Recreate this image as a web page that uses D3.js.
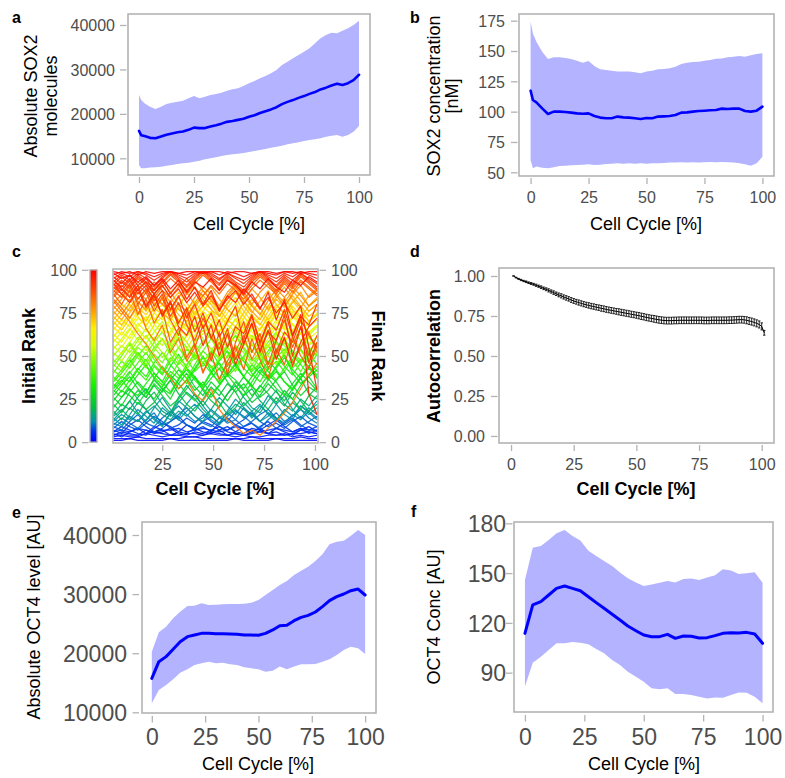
<!DOCTYPE html>
<html><head><meta charset="utf-8">
<script src="https://cdn.jsdelivr.net/npm/d3@7"></script>
<style>body{margin:0;background:#fff}svg{display:block}</style>
</head><body>
<svg id="fig" width="785" height="778"></svg>
<script>
const FONT = "'Liberation Sans', Arial, Helvetica, sans-serif";
const RIBBON = "#b3b3ff", LINE = "#0000ff", FRAME = "#b3b3b3", TICKTXT = "#4d4d4d";

// ---- panel a / b : SOX2 ----
const xA = [0,1,2.5,5,7.5,10,12.5,15,17.5,20,22.5,25,27.5,30,32.5,35,37.5,40,42.5,45,47.5,50,52.5,55,57.5,60,62.5,65,67.5,70,72.5,75,77.5,80,82.5,85,87.5,90,92.5,95,97.5,100];
const sox2Mean = [16150,15200,15000,14600,14500,14900,15300,15600,15850,16050,16400,16900,16800,16800,17150,17450,17800,18200,18400,18650,18900,19350,19700,20200,20600,21000,21500,22200,22700,23100,23600,24000,24500,24900,25500,25900,26400,26800,26500,26900,27600,28800];
const sox2Upper = [24250,23125,22375,21625,21100,21625,22225,22525,22750,22975,23500,24025,23500,23875,24250,24475,24775,25225,25525,25750,26275,26875,27400,28000,28525,29125,29875,31000,31750,32500,33250,34000,34750,35875,37000,37750,38275,38125,38725,39250,40000,40975];
const sox2Lower = [8500,7750,7750,7900,7975,8125,8350,8500,8725,8875,9025,9250,9475,9775,10000,10225,10525,10750,10900,11050,11200,11425,11650,11875,12100,12400,12625,12850,13150,13375,13600,13900,14125,14275,14500,14875,15100,15250,14875,15250,16000,17275];
const sox2ConcMean = [117.3,109.6,107.7,102.7,98.1,100,100,99.7,99.2,98.6,98.3,98.6,96.4,95.1,94.5,94.5,95.9,95.3,95.1,94.5,94,94.8,94.5,95.9,96.1,96.4,97.2,99.2,99.4,100,100.5,100.8,101.1,101.4,102.5,102.2,102.5,102.5,100.5,100,100.8,104.1];
const sox2ConcUpper = [174.2,164.5,157.7,149.4,143.4,144.8,144.8,144.2,143.4,142,140.4,141.7,137.6,134.9,134.3,133.8,133.2,133,133.2,132.4,131.6,133,133.8,134.9,135.2,135.7,137.1,139.3,140.4,141,141.2,142,142.6,143.7,143.9,144.8,145.3,145.9,145.3,146.4,147.5,148.1];
const sox2ConcLower = [60.2,53.3,54.7,53.8,53.3,54.1,55.2,55.5,55.8,56,56.3,56.6,56,56.3,56.9,57.1,57.4,57.1,57.4,57.1,57.4,57.1,57.4,57.4,57.7,58,58,58.2,58,58.2,58,58.2,58.5,58.2,58.5,58.2,58,57.4,56.6,55.5,57.4,62.9];

// ---- panel c : rank trajectories (rank at each cell-cycle position) ----
const rankX = [1,5,9,13,17,21,25,29,33,37,41,45,49,53,57,61,65,69,73,77,81,85,89,93,97,101];
const rankTracks = [
"1 1 2 1 1 1 1 2 1 1 1 1 1 1 1 2 1 1 1 1 2 1 1 1 1 1",
"2 2 2 3 2 2 2 2 2 3 3 2 2 2 2 2 2 3 2 2 2 2 2 3 2 2",
"3 4 3 3 5 4 3 4 4 3 3 4 5 4 4 3 4 3 3 4 4 5 3 4 3 4",
"4 5 4 4 5 6 5 4 4 5 5 4 6 5 4 5 4 5 6 5 4 4 5 5 6 5",
"4 6 5 4 7 5 6 8 5 4 6 5 7 9 6 5 4 6 8 5 6 4 5 7 6 5",
"5 3 6 8 5 9 7 4 6 10 8 6 5 7 4 6 9 11 7 5 8 6 4 7 9 6",
"6 7 6 8 7 6 7 7 8 6 7 8 7 6 7 9 8 7 6 7 8 7 6 8 7 7",
"6 9 7 5 4 8 11 9 6 5 8 12 10 7 9 6 5 8 7 10 13 9 6 8 5 7",
"7 5 10 13 9 6 8 12 15 10 7 9 6 11 14 10 8 5 9 12 8 11 14 10 7 9",
"8 12 9 7 11 15 12 8 10 14 11 16 12 9 7 10 13 17 12 9 11 8 12 15 11 9",
"9 7 12 16 11 9 14 18 13 10 8 12 15 11 17 13 9 12 16 19 14 10 13 9 12 15",
"10 14 11 8 13 17 10 12 16 20 15 11 9 14 12 18 15 11 8 13 17 12 15 19 14 11",
"11 9 15 12 18 14 10 17 21 16 12 14 19 15 11 13 20 16 12 17 14 11 16 13 18 14",
"12 16 13 19 15 11 20 16 13 18 22 17 13 10 15 19 14 18 22 16 12 19 15 21 17 13",
"13 18 24 17 12 20 26 19 14 22 28 21 15 11 18 25 20 14 19 27 22 16 13 21 18 24",
"14 10 16 23 19 13 9 17 24 20 15 12 19 26 21 16 23 18 12 15 22 27 19 14 20 16",
"15 19 14 12 17 21 16 13 18 15 20 24 18 14 17 22 19 15 21 17 13 18 23 19 16 20",
"16 22 19 26 31 24 18 15 23 29 25 19 14 21 28 33 26 20 17 24 30 22 18 25 21 27",
"18 13 20 16 24 29 22 17 26 33 27 21 28 23 16 20 27 31 24 19 26 21 29 24 18 22",
"20 26 31 25 19 23 30 36 28 22 18 25 32 27 34 29 21 26 33 28 23 30 25 19 27 32",
"22 17 24 30 26 33 27 21 25 31 38 30 24 20 28 35 30 23 27 34 29 24 31 37 28 25",
"24 30 27 22 29 36 31 25 34 40 32 27 35 30 24 31 38 33 26 30 36 41 33 27 32 29",
"26 21 29 35 30 25 32 39 34 28 24 31 37 43 35 29 34 27 32 39 35 28 25 33 38 31",
"27 33 38 31 26 34 29 36 42 37 30 35 28 33 40 36 31 38 44 37 31 27 34 40 35 30",
"29 35 41 34 28 37 44 38 31 36 43 50 41 34 39 46 38 32 40 47 42 35 31 38 44 37",
"30 26 33 39 45 37 31 28 36 43 38 32 40 46 39 33 27 35 42 37 44 51 40 34 38 42",
"31 36 30 27 34 40 35 29 37 42 36 31 26 33 39 45 38 32 29 36 41 35 30 37 43 38",
"32 38 35 42 48 40 35 44 51 43 37 33 41 47 53 44 38 45 40 36 43 49 42 37 44 39",
"34 29 36 43 38 46 52 45 39 34 42 49 44 37 45 51 47 40 35 43 50 44 39 46 52 45",
"35 40 46 52 44 38 33 41 37 45 51 46 40 35 42 49 43 38 46 41 36 43 50 45 39 44",
"36 42 48 41 36 44 39 47 55 48 41 46 53 45 38 43 50 57 49 42 47 41 48 54 46 41",
"38 33 40 46 52 45 40 49 43 37 45 53 48 42 50 56 47 41 46 53 59 50 43 48 44 51",
"40 47 43 50 56 48 42 38 46 54 50 44 51 58 52 45 49 42 50 56 49 54 47 41 49 55",
"42 37 44 52 47 55 60 51 45 50 57 49 43 48 55 62 54 47 52 46 54 60 53 47 55 50",
"44 50 57 49 43 51 46 54 61 55 48 53 60 52 46 41 49 57 51 45 52 58 51 46 53 58",
"45 41 48 55 51 58 64 56 49 44 52 59 54 48 56 62 55 49 44 51 58 53 60 54 48 52",
"46 52 58 51 45 53 60 54 47 42 50 57 63 55 49 56 52 45 51 58 64 56 50 55 61 54",
"48 43 50 56 62 55 49 57 64 58 51 46 53 60 55 49 56 62 57 50 45 52 59 53 47 55",
"50 56 52 59 66 58 52 47 55 62 68 60 54 49 57 64 58 52 59 65 57 51 58 63 56 61",
"52 47 54 61 57 64 70 62 55 50 58 65 60 53 61 67 59 53 48 56 63 58 65 59 53 57",
"54 60 66 59 53 61 56 64 71 65 58 63 69 61 55 50 58 66 61 55 62 68 60 55 62 67",
"56 51 58 65 60 68 73 66 59 54 62 69 64 57 65 71 63 57 52 60 67 62 69 63 57 61",
"58 64 60 67 73 65 59 55 63 70 76 68 61 57 64 72 66 59 66 72 64 58 65 71 63 68",
"60 55 62 69 64 71 77 69 62 58 66 73 68 61 69 75 67 61 56 64 71 66 73 67 60 64",
"61 67 73 66 60 68 64 71 78 72 65 70 76 68 62 58 66 74 69 62 69 75 68 63 70 74",
"63 58 65 72 68 75 80 73 66 61 69 76 71 64 72 78 70 64 59 67 74 69 76 70 64 68",
"65 71 67 74 79 72 66 62 70 77 82 74 68 64 71 78 73 66 73 79 71 65 72 78 70 75",
"67 62 69 76 71 78 83 76 69 65 73 79 74 67 75 81 73 67 62 70 77 72 79 73 67 71",
"68 74 80 73 67 75 71 78 84 78 71 76 82 74 68 64 72 80 75 68 75 81 74 69 76 80",
"70 65 72 78 74 80 85 78 71 67 75 82 77 70 78 84 76 70 65 73 80 75 82 76 70 74",
"71 77 83 76 70 78 74 81 87 81 74 79 85 77 71 67 75 83 78 71 78 84 77 72 79 83",
"73 68 75 81 77 83 88 81 74 70 78 85 80 73 81 87 79 73 68 76 83 78 85 79 73 77",
"74 80 76 83 88 81 75 71 79 86 90 83 77 73 80 87 82 75 82 88 80 74 81 87 79 84",
"76 71 78 84 80 86 91 84 77 73 81 88 83 76 84 90 82 76 71 79 86 81 88 82 76 80",
"77 83 89 82 76 84 80 87 92 87 80 85 90 83 77 73 81 89 84 77 84 90 83 78 85 89",
"79 74 81 87 83 89 93 87 80 76 84 90 86 79 87 92 85 79 74 82 89 84 90 85 79 83",
"80 86 82 89 93 86 80 76 84 90 94 88 82 78 85 91 87 80 87 92 85 79 86 91 84 88",
"82 76 70 63 57 50 43 37 31 36 28 24 31 19 13 9 5 7 4 8 12 17 23 31 39 46",
"83 78 72 80 66 59 68 52 60 47 55 41 49 58 44 53 62 48 57 43 51 60 46 55 64 52",
"84 89 85 91 87 93 88 84 90 95 89 85 91 86 92 88 83 89 94 90 86 92 87 93 89 85",
"85 91 87 93 89 84 90 95 91 86 92 97 93 88 94 90 85 91 96 92 87 93 89 94 90 86",
"86 80 88 74 83 69 77 58 66 49 57 40 52 36 47 55 42 60 48 37 54 45 61 50 43 56",
"87 93 89 95 91 86 92 97 93 88 94 98 94 89 95 91 87 93 97 93 88 94 90 96 92 88",
"88 84 91 80 87 76 84 71 62 76 55 68 47 64 39 58 70 52 63 45 59 71 55 67 50 62",
"89 94 90 96 92 88 93 98 94 90 95 99 95 91 96 92 88 94 98 94 90 95 91 97 93 89",
"90 86 92 83 89 79 86 73 81 68 59 72 61 54 66 48 60 73 57 69 52 64 58 71 62 55",
"91 96 92 97 93 90 95 99 95 91 96 99 96 92 97 93 90 95 99 95 91 96 92 98 94 90",
"92 86 81 89 78 85 74 82 69 78 64 75 60 71 55 67 63 74 58 70 65 77 61 73 68 80",
"92 88 94 86 91 82 88 77 85 72 80 66 75 61 70 79 57 69 52 64 59 74 50 67 46 58",
"93 97 94 98 95 91 96 99 96 93 97 99 97 94 98 95 92 96 99 96 93 97 94 98 95 92",
"94 89 84 91 79 86 73 81 67 62 73 56 68 50 63 45 57 69 53 65 48 61 44 58 67 72",
"94 90 95 88 93 86 91 84 89 81 87 79 85 77 83 88 80 86 78 84 75 81 72 79 55 30",
"95 98 96 99 97 94 97 99 97 95 98 99 98 95 98 96 94 97 99 97 95 98 96 99 97 95",
"96 92 97 91 95 88 94 86 92 83 90 80 88 76 85 81 89 84 77 87 71 83 62 74 28 16",
"97 99 98 99 98 96 98 99 98 97 99 99 99 97 99 98 96 98 99 98 97 99 98 99 98 97",
"98 95 97 93 96 91 95 89 94 87 93 90 95 88 94 91 86 93 89 95 90 87 94 91 96 93",
"99 98 99 97 99 98 99 99 98 99 99 98 99 99 98 99 99 98 99 99 98 99 99 98 99 99"
];
const rankColorStops = [0,6,12,20,32,45,56,66,76,87,100];
const rankColors = ["#0000ff","#0030f0","#0090b0","#00c040","#10f000","#70ff00","#d8ff00","#ffee00","#ffa000","#ff5000","#ff0000"];

// ---- panel d : autocorrelation (x = 1..101) ----
const autoVal = [1.000,0.990,0.982,0.975,0.969,0.964,0.958,0.953,0.948,0.942,
0.936,0.930,0.923,0.917,0.910,0.903,0.896,0.889,0.882,0.876,
0.869,0.863,0.857,0.850,0.844,0.839,0.834,0.829,0.824,0.820,
0.816,0.812,0.809,0.805,0.802,0.798,0.795,0.791,0.788,0.785,
0.782,0.779,0.776,0.773,0.770,0.767,0.764,0.761,0.758,0.755,
0.752,0.748,0.745,0.741,0.738,0.735,0.732,0.729,0.726,0.724,
0.722,0.721,0.721,0.721,0.722,0.722,0.723,0.723,0.723,0.723,
0.723,0.723,0.723,0.723,0.723,0.723,0.722,0.722,0.722,0.723,
0.723,0.723,0.723,0.723,0.723,0.723,0.724,0.724,0.725,0.726,
0.727,0.727,0.726,0.723,0.719,0.715,0.710,0.704,0.697,0.685,0.645];
const autoErr = [0,.002,.003,.004,.004,.005,.005,.006,.006,.007,
.007,.008,.008,.009,.010,.010,.011,.011,.012,.013,
.013,.014,.014,.015,.015,.015,.016,.016,.016,.016,
.017,.017,.017,.017,.017,.018,.018,.018,.018,.018,
.018,.018,.019,.019,.019,.019,.019,.019,.019,.019,
.020,.020,.020,.020,.020,.020,.021,.021,.021,.021,
.021,.021,.021,.021,.021,.021,.021,.021,.021,.021,
.021,.021,.021,.021,.021,.021,.021,.021,.021,.021,
.021,.021,.021,.021,.021,.021,.021,.021,.021,.021,
.021,.021,.021,.022,.022,.022,.022,.022,.022,.022,.015];

// ---- panel e / f : OCT4 ----
const xE = [0,3.3,6.7,10,13.3,16.7,20,23.3,26.7,30,33.3,36.7,40,43.3,46.7,50,53.3,56.7,60,63.3,66.7,70,73.3,76.7,80,83.3,86.7,90,93.3,96.7,100];
const oct4Mean = [15750,18570,19420,20660,21950,22800,23080,23360,23360,23310,23310,23250,23200,23080,23080,23030,23360,23930,24660,24720,25510,26070,26410,26970,27880,28890,29570,30020,30580,30860,29850];
const oct4Upper = [20260,23530,24490,25900,27030,27990,28040,28440,28160,28210,28270,28330,28330,28380,28550,29000,29850,30700,31540,32220,33230,33960,34640,35600,36730,38420,38870,39040,39890,40850,40000];
const oct4Lower = [11520,13780,14620,15580,16710,17270,18010,18290,18570,18290,18400,18120,18010,17610,17440,17270,16880,17050,17730,17270,17730,18120,18120,18180,18570,18970,19700,20550,21110,20830,19870];
const oct4ConcMean = [113.7,130.8,132.8,136.8,140.8,142.2,140.8,139.4,135.8,132.2,128.8,125.2,121.7,118.1,115.3,112.7,111.7,111.7,113.1,110.7,112.1,111.9,110.9,111.1,112.3,113.7,114.1,113.9,114.3,113.3,107.7];
const oct4ConcUpper = [145.8,165.3,166.3,170,174,176,172.4,169.6,163.5,160.3,157.3,154.3,150.3,146.9,144.4,142.2,143.2,144.2,145.2,144.4,146.5,146.7,145.8,147.3,148.7,152.3,151.5,149.5,149.9,150.5,144.2];
const oct4ConcLower = [81.6,96,99.6,103.7,107.7,107.7,108.5,108.1,107.1,104.3,101.7,97.6,94.6,90.6,87.6,84.6,80.6,80,80.6,77.1,77.1,76.5,75.5,74.5,75.1,74.9,76.5,78.1,77.9,75.5,71.5];

// tick labels
const pctTicks = [0,25,50,75,100];
const pctTicksC = [25,50,75,100];
const sox2Ticks = [10000,20000,30000,40000];
const sox2ConcTicks = [50,75,100,125,150,175];
const rankTicks = [0,25,50,75,100];
const autoTicks = [0,0.25,0.5,0.75,1];
const oct4Ticks = [10000,20000,30000,40000];
const oct4ConcTicks = [90,120,150,180];

// =====================================================
const svg = d3.select("#fig");

function makePanel(f, xd, yd){
  const g = svg.append("g");
  const x = d3.scaleLinear().domain(xd).range([f.l, f.r]);
  const y = d3.scaleLinear().domain(yd).range([f.b, f.t]);
  return {g, x, y, f};
}
function frame(p){
  p.g.append("rect").attr("x", p.f.l).attr("y", p.f.t)
    .attr("width", p.f.r - p.f.l).attr("height", p.f.b - p.f.t)
    .attr("fill", "none").attr("stroke", FRAME).attr("stroke-width", 1.6);
}
function styleAxis(ax, fs){
  ax.attr("font-family", FONT).attr("font-size", fs);
  ax.select(".domain").remove();
  ax.selectAll("line").attr("stroke", FRAME).attr("stroke-width", 1.3);
  ax.selectAll("text").attr("fill", TICKTXT);
}
function xAxis(p, ticks, fs, off, len, base, fmt){
  const y0 = p.f.b + off;
  const ax = p.g.append("g").attr("transform", `translate(0,${y0})`)
    .call(d3.axisBottom(p.x).tickValues(ticks).tickSize(len).tickSizeOuter(0).tickFormat(fmt || d3.format("d")));
  styleAxis(ax, fs);
  ax.selectAll("text").attr("y", base - y0).attr("dy", null);
}
function yAxis(p, ticks, fs, off, len, right, fmt, xpos){
  const x0 = (xpos !== undefined ? xpos : p.f.l) - off;
  const ax = p.g.append("g").attr("transform", `translate(${x0},0)`)
    .call(d3.axisLeft(p.y).tickValues(ticks).tickSize(len).tickSizeOuter(0).tickFormat(fmt || d3.format("d")));
  styleAxis(ax, fs);
  ax.selectAll("text").attr("x", right - x0).attr("dy", "0.36em");
}
function text(str, x, y, opts){
  const t = svg.append("text").text(str).attr("font-family", FONT)
    .attr("font-size", opts.size).attr("font-weight", opts.bold ? "bold" : "normal")
    .attr("fill", "#000").attr("text-anchor", opts.anchor || "middle");
  if (opts.rot) t.attr("transform", `translate(${x},${y}) rotate(${opts.rot})`);
  else t.attr("x", x).attr("y", y);
  return t;
}
function ribbonPanel(p, xs, lo, hi, mean, lw){
  const area = d3.area().x((d,i)=>p.x(xs[i])).y0((d,i)=>p.y(lo[i])).y1((d,i)=>p.y(hi[i]));
  p.g.append("path").attr("d", area(xs)).attr("fill", RIBBON);
  const line = d3.line().x((d,i)=>p.x(xs[i])).y(d=>p.y(d));
  p.g.append("path").attr("d", line(mean)).attr("fill","none").attr("stroke", LINE)
    .attr("stroke-width", lw).attr("stroke-linejoin","round").attr("stroke-linecap","round");
}

// ---------------- panel a ----------------
{
  const p = makePanel({l:128,t:14,r:370,b:175}, [-5,105], [6240,42475]);
  ribbonPanel(p, xA, sox2Lower, sox2Upper, sox2Mean, 2.6);
  frame(p);
  xAxis(p, pctTicks, 16, 2, 6, 202.5);
  yAxis(p, sox2Ticks, 16, 1.5, 6.5, 115);
  text("Cell Cycle [%]", 249, 230, {size:18});
  text("Absolute SOX2", 37, 96, {size:18, rot:-90});
  text("molecules", 57, 96, {size:18, rot:-90});
  text("a", 12, 23, {size:16, bold:true, anchor:"start"});
}
// ---------------- panel b ----------------
{
  const p = makePanel({l:519,t:14,r:774,b:176}, [-5,105], [46.95,180.5]);
  ribbonPanel(p, xA, sox2ConcLower, sox2ConcUpper, sox2ConcMean, 2.6);
  frame(p);
  xAxis(p, pctTicks, 16, 2, 6, 202.5);
  yAxis(p, sox2ConcTicks, 16, 1.5, 6.5, 505);
  text("Cell Cycle [%]", 646, 230, {size:18});
  text("SOX2 concentration", 440, 96, {size:18, rot:-90});
  text("[nM]", 458, 96, {size:18, rot:-90});
  text("b", 410, 23, {size:16, bold:true, anchor:"start"});
}
// ---------------- panel c ----------------
{
  const p = makePanel({l:113,t:269,r:318,b:443}, [0.8,101.5], [-0.5,100.5]);
  const color = d3.scaleLinear().domain(rankColorStops).range(rankColors);
  svg.append("clipPath").attr("id","clipC").append("rect")
    .attr("x",p.f.l).attr("y",p.f.t).attr("width",p.f.r-p.f.l).attr("height",p.f.b-p.f.t);
  const lg = p.g.append("g").attr("clip-path","url(#clipC)");
  const line = d3.line().x((d,i)=>p.x(rankX[i])).y(d=>p.y(d));
  rankTracks.forEach(s=>{
    const vals = s.trim().split(/\s+/).map(Number).slice(0, rankX.length);
    lg.append("path").attr("d", line(vals)).attr("fill","none")
      .attr("stroke", color(vals[0])).attr("stroke-width", 1.25).attr("stroke-opacity", 0.9)
      .attr("stroke-linejoin","round");
  });
  frame(p);
  xAxis(p, pctTicksC, 16, 2, 6, 470);
  const x0 = p.f.r + 1.5;
  const ax = p.g.append("g").attr("transform", `translate(${x0},0)`)
    .call(d3.axisRight(p.y).tickValues(rankTicks).tickSize(6.5).tickSizeOuter(0).tickFormat(d3.format("d")));
  styleAxis(ax, 16);
  ax.selectAll("text").attr("x", 331 - x0).attr("dy","0.36em");
  const defs = svg.append("defs");
  const grad = defs.append("linearGradient").attr("id","rankGrad").attr("x1",0).attr("y1",1).attr("x2",0).attr("y2",0);
  rankColorStops.forEach((s,i)=>grad.append("stop").attr("offset", s/100).attr("stop-color", rankColors[i]));
  svg.append("rect").attr("x",90).attr("y",p.y(100)).attr("width",7).attr("height",p.y(0)-p.y(100))
    .attr("fill","url(#rankGrad)").attr("stroke",FRAME).attr("stroke-width",1.4);
  yAxis(p, rankTicks, 16, 0, 6.5, 77, d3.format("d"), 88.5);
  text("Cell Cycle [%]", 215, 495, {size:18, bold:true});
  text("Initial Rank", 35, 356, {size:18, bold:true, rot:-90});
  text("Final Rank", 372, 356, {size:18, bold:true, rot:90});
  text("c", 12, 257, {size:16, bold:true, anchor:"start"});
}
// ---------------- panel d ----------------
{
  const p = makePanel({l:499,t:268,r:774,b:443}, [-4.8,104.9], [-0.044,1.05]);
  const line = d3.line().x((d,i)=>p.x(i+1)).y(d=>p.y(d));
  p.g.append("path").attr("d", line(autoVal)).attr("fill","none").attr("stroke","#000").attr("stroke-width",1);
  const eb = p.g.append("g").attr("stroke","#000").attr("stroke-width",0.85);
  autoVal.forEach((v,i)=>{
    const xc = p.x(i+1), hw = p.x(i+1.5) - xc;
    const y1 = p.y(v - autoErr[i]), y2 = p.y(v + autoErr[i]);
    eb.append("line").attr("x1",xc).attr("x2",xc).attr("y1",y1).attr("y2",y2);
    eb.append("line").attr("x1",xc-hw).attr("x2",xc+hw).attr("y1",y1).attr("y2",y1);
    eb.append("line").attr("x1",xc-hw).attr("x2",xc+hw).attr("y1",y2).attr("y2",y2);
  });
  frame(p);
  xAxis(p, pctTicks, 16, 2, 6, 470);
  yAxis(p, autoTicks, 16, 1.5, 6.5, 485, d3.format(".2f"));
  text("Cell Cycle [%]", 636, 495, {size:18, bold:true});
  text("Autocorrelation", 440, 356, {size:18, bold:true, rot:-90});
  text("d", 410, 257, {size:16, bold:true, anchor:"start"});
}
// ---------------- panel e ----------------
{
  const p = makePanel({l:142,t:522,r:376,b:713}, [-4.6,105.1], [9882,42200]);
  ribbonPanel(p, xE, oct4Lower, oct4Upper, oct4Mean, 3);
  frame(p);
  xAxis(p, pctTicks, 23, 3, 6.5, 745);
  yAxis(p, oct4Ticks, 23, 3, 6.5, 127);
  text("Cell Cycle [%]", 258, 770, {size:18});
  text("Absolute OCT4 level [AU]", 40, 617, {size:18, rot:-90});
  text("e", 12, 518, {size:16, bold:true, anchor:"start"});
}
// ---------------- panel f ----------------
{
  const p = makePanel({l:514,t:522,r:773,b:712}, [-4.6,104.4], [66.3,180.8]);
  ribbonPanel(p, xE, oct4ConcLower, oct4ConcUpper, oct4ConcMean, 3);
  frame(p);
  xAxis(p, pctTicks, 23, 3, 6.5, 745);
  yAxis(p, oct4ConcTicks, 23, 1.5, 6.5, 506);
  text("Cell Cycle [%]", 644, 770, {size:18});
  text("OCT4 Conc [AU]", 440, 617, {size:18, rot:-90});
  text("f", 411, 517, {size:16, bold:true, anchor:"start"});
}
</script>
</body></html>
